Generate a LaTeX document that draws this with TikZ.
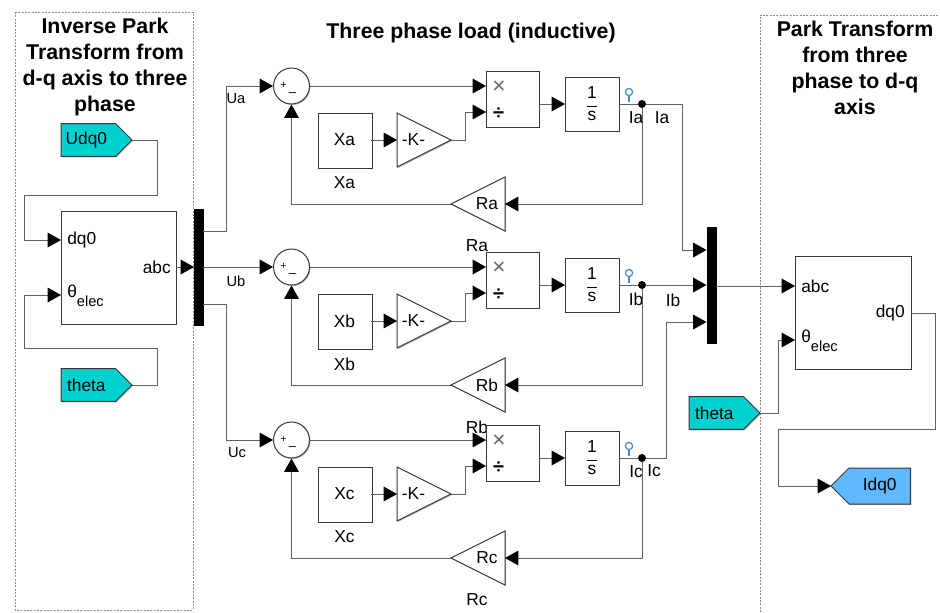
\documentclass[tikz,border=0pt]{standalone}
\usepackage{fontspec}
\setmainfont{Liberation Sans}
\usetikzlibrary{arrows.meta,shapes.geometric,shapes.symbols,shadows}
\definecolor{tagcyan}{RGB}{0,208,208}
\definecolor{tagblue}{RGB}{96,184,255}
\definecolor{probeblue}{RGB}{70,140,200}
\tikzset{
  wire/.style={draw=black!62,line width=0.6pt},
  arr/.style={wire,-{Triangle[length=10pt,width=11pt,black]}},
  blk/.style={draw=black!78,line width=0.75pt,fill=white,inner sep=0pt,outer sep=0pt,
    drop shadow={shadow xshift=0.7pt,shadow yshift=-0.7pt,opacity=0.3,fill=black}},
  lab/.style={font=\fontsize{13}{13}\selectfont,inner sep=0pt},
  small/.style={font=\fontsize{11}{11}\selectfont,inner sep=0pt},
  ttl/.style={font=\fontsize{16}{19.5}\selectfont\bfseries,align=center,inner sep=0pt},
  frame/.style={draw=black!45,line width=0.5pt,dash pattern=on 1.5pt off 1pt},
  bar/.style={fill=black,inner sep=0pt,outer sep=0pt},
  trir/.style={blk,isosceles triangle,isosceles triangle stretches,minimum width=40.5pt,minimum height=40.5pt,shape border rotate=0},
  tril/.style={blk,isosceles triangle,isosceles triangle stretches,minimum width=40.5pt,minimum height=40.5pt,shape border rotate=180},
  tagbase/.style={blk,signal,signal pointer angle=90,minimum height=24.5pt,font=\fontsize{13}{13}\selectfont},
  dot/.style={circle,fill=black,inner sep=0pt,minimum size=6pt},
  probe/.style={draw=probeblue,line width=0.9pt},
}
\newcommand{\thetaelec}{θ\raisebox{-7pt}{\fontsize{11}{11}\selectfont elec}}
\begin{document}
\begin{tikzpicture}[x=0.75pt,y=-0.75pt]
\useasboundingbox (0,0) rectangle (940,612);
\fill[white] (0,0) rectangle (940,612);
% frames
\draw[frame] (15,12) rectangle (193,610);
\draw[frame] (760,612) -- (760,15) -- (940,15);
% titles
\node[ttl] (t1) at (105,66.5) {Inverse Park\\Transform from\\d-q axis to three\\phase};
\node[ttl] (t2) at (471,33) {Three phase load (inductive)};
\node[ttl] (t3) at (855,68) {Park Transform\\from three\\phase to d-q\\axis};
% left side
\node[blk,anchor=north west,minimum width=86.25pt,minimum height=84.75pt] (ipark) at (61,211) {};
\node[lab,anchor=west] (ip1) at (67,240) {dq0};
\node[lab,anchor=west] (ip2) at (67,296) {\thetaelec};
\node[lab,anchor=east] (ip3) at (171,267) {abc};
\node[tagbase,fill=tagcyan,signal to=east,signal from=nowhere,anchor=east,minimum width=53.25pt] (udq) at (132,140) {Udq0\hspace*{3pt}};
\node[tagbase,fill=tagcyan,signal to=east,signal from=nowhere,anchor=east,minimum width=53.25pt] (th1) at (132,385) {theta\hspace*{3pt}};
\node[bar,anchor=north west,minimum width=7.5pt,minimum height=87.75pt] (demux) at (193.7,209) {};
\coordinate (c1) at (157,195); \coordinate (c2) at (24,240);
\coordinate (c3) at (157,348); \coordinate (c4) at (24,295);
\coordinate (ipin1) at (61,240); \coordinate (ipin2) at (61,295);
\draw[arr] (udq.east) -| (c1) -| (c2) -- (ipin1);
\draw[arr] (th1.east) -| (c3) -| (c4) -- (ipin2);
\coordinate (ipout) at (176,267); \coordinate (dmin) at (194,267);
\draw[arr] (ipout) -- (dmin);
% mux
\node[bar,anchor=north west,minimum width=7.5pt,minimum height=87.75pt] (mux) at (706.5,227) {};
% rows
\foreach \r/\R/\d/\ux/\uy/\lx/\ly in {a/a/0/236/99/662/118,b/b/181/236/281/673/300,c/c/354/237/453/654/471}{
  \node[lab] (rl\r) at (477,{246+\d}) {R\R};
  \node[blk,circle,minimum size=27pt] (sum\r) at (291.5,{86+\d}) {};
  \node[font=\fontsize{8}{8}\selectfont,inner sep=0pt] (plus\r) at (283.5,{85+\d}) {+};
  \node[font=\fontsize{10}{10}\selectfont,inner sep=0pt] (minus\r) at (292.5,{95+\d}) {–};
  \node[blk,anchor=north west,minimum width=40.5pt,minimum height=41.25pt] (x\r) at (318,{113+\d}) {};
  \node[lab] (xt\r) at (344.5,{140+\d}) {X\R};
  \node[lab] (xl\r) at (344.5,{183+\d}) {X\R};
  \node[trir,anchor=apex] (k\r) at (451,{140+\d}) {};
  \node[lab] (kt\r) at (413.5,{140+\d}) {-K-};
  \node[blk,anchor=north west,minimum width=40pt,minimum height=42pt] (p\r) at (486,{71+\d}) {};
  \node[font=\fontsize{17}{17}\selectfont,text=black!60,inner sep=0pt] (pm\r) at (499,{87+\d}) {×};
  \node[font=\fontsize{15}{15}\selectfont\bfseries,inner sep=0pt] (pd\r) at (498.5,{114+\d}) {÷};
  \node[blk,anchor=north west,minimum width=40.5pt,minimum height=40.5pt,font=\fontsize{13}{13}\selectfont] (i\r) at (565,{77+\d}) {$\displaystyle\frac{\hbox{1}}{\hbox{s}}$};
  \node[tril,anchor=apex] (g\r) at (451,{204+\d}) {};
  \node[lab] (gt\r) at (487,{204+\d}) {R\R};
  \node[dot] (j\r) at (642,{104+\d}) {};
  \node[lab] (il\r) at (636,{118+\d}) {I\R};
  \node[lab] (ol\r) at (\lx,\ly) {I\R};
  \node[small] (ul\r) at (\ux,\uy) {U\R};
  % probe
  \draw[probe] (629,{92+\d}) circle[radius=3.6];
  \draw[probe] (629,{95.6+\d}) -- (629,{101.5+\d});
  % coordinates
  \coordinate (pi1\r) at (486,{86+\d});
  \coordinate (pi2\r) at (486,{112+\d});
  \coordinate (po\r) at (539,{104+\d});
  \coordinate (ii\r) at (565,{104+\d});
  \coordinate (io\r) at (619,{104+\d});
  \coordinate (xe\r) at (371,{140+\d});
  \coordinate (ki\r) at (397,{140+\d});
  \coordinate (kb\r) at (465,{112+\d});
  \coordinate (ge\r) at (505,{204+\d});
  \coordinate (sout\r) at (310,{86+\d});
  \coordinate (sbot\r) at (291.5,{104.5+\d});
  \draw[arr] (sout\r) -- (pi1\r);
  \draw[arr] (xe\r) -- (ki\r);
  \draw[arr] (k\r.apex) -| (kb\r) -- (pi2\r);
  \draw[arr] (po\r) -- (ii\r);
  \draw[wire] (io\r) -- (j\r);
  \draw[arr] (j\r) |- (ge\r);
  \draw[arr] (g\r.apex) -| (sbot\r);
}
% inputs to sums
\coordinate (du1) at (203,231); \coordinate (du2) at (226,86); \coordinate (su1) at (273,86);
\coordinate (du3) at (203,267); \coordinate (su2) at (273,267);
\coordinate (du4) at (203,304); \coordinate (du5) at (226,440); \coordinate (su3) at (273,440);
\draw[arr] (du1) -| (du2) -- (su1);
\draw[arr] (du3) -- (su2);
\draw[arr] (du4) -| (du5) -- (su3);
% to mux
\coordinate (m1) at (706.5,250); \coordinate (m2) at (706.5,285); \coordinate (m3) at (706.5,322);
\coordinate (m1b) at (682.5,104); \coordinate (m3b) at (666.5,458);
\draw[arr] (ja) -- (m1b) |- (m1);
\draw[arr] (jb) -- (m2);
\draw[arr] (jc) -- (m3b) |- (m3);
% park block
\node[blk,anchor=north west,minimum width=87pt,minimum height=84.75pt] (park) at (795,256) {};
\node[lab,anchor=west] (pk1) at (801,286) {abc};
\node[lab,anchor=east] (pk2) at (905,313) {dq0};
\node[lab,anchor=west] (pk3) at (801,341) {\thetaelec};
\node[tagbase,fill=tagcyan,signal to=east,signal from=nowhere,anchor=east,minimum width=53.25pt] (th2) at (760,413) {theta\hspace*{3pt}};
\node[tagbase,signal to=west,signal from=nowhere,anchor=west,minimum width=59.5pt,minimum height=27pt,fill=tagblue] (idq) at (831,486) {Idq0};
\coordinate (pa) at (716,286); \coordinate (pb) at (795,286);
\coordinate (pc) at (778,340); \coordinate (pd) at (795,340);
\coordinate (pe) at (911,313); \coordinate (pf) at (935,429); \coordinate (pg) at (778,486);
\draw[arr] (pa) -- (pb);
\draw[arr] (th2.east) -| (pc) -- (pd);
\draw[arr] (pe) -| (pf) -| (pg) -- (idq.west);
\end{tikzpicture}
\end{document}
